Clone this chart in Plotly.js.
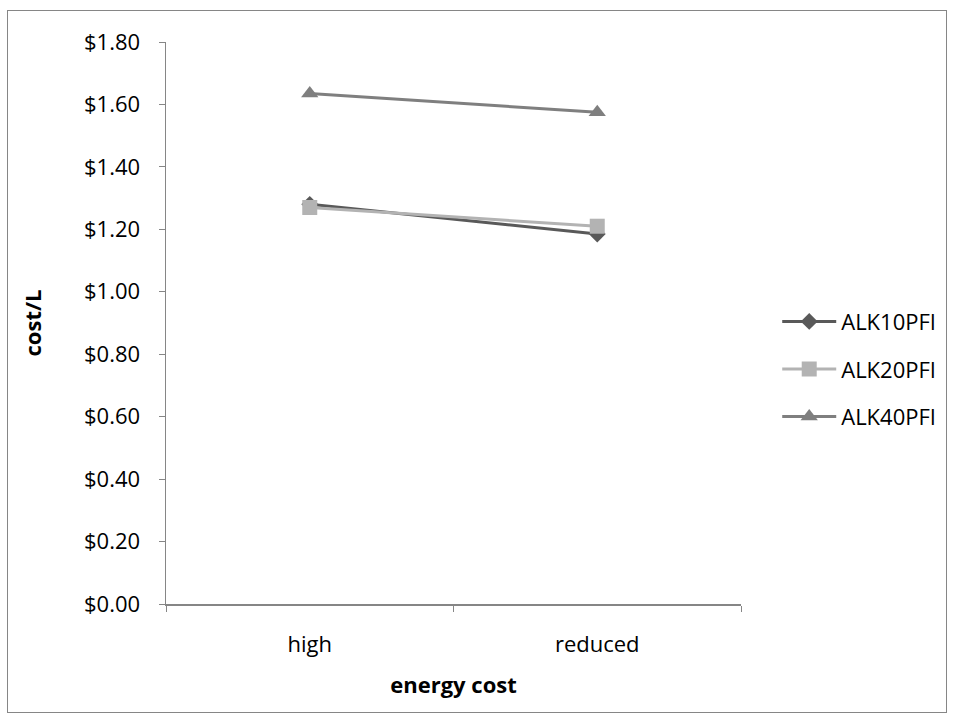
<!DOCTYPE html>
<html>
<head>
<meta charset="utf-8">
<script src="https://cdn.plot.ly/plotly-3.0.1.min.js"></script>
<style>
  html, body { margin: 0; padding: 0; background: #fff; }
  #chart { width: 956px; height: 721px; }
  #frame { position: absolute; left: 7px; top: 10px; width: 940px; height: 703px; border: 1.5px solid #868686; pointer-events: none; box-sizing: border-box; }
</style>
</head>
<body>
<div id="chart"></div>
<div id="frame"></div>
<script>
const categories = ['high', 'reduced'];
const seriesNames = ['ALK10PFI', 'ALK20PFI', 'ALK40PFI'];
const alk10 = [1.28, 1.185];
const alk20 = [1.27, 1.21];
const alk40 = [1.635, 1.575];
const yTicks = [0, 0.2, 0.4, 0.6, 0.8, 1.0, 1.2, 1.4, 1.6, 1.8];

const FONT = 'Open Sans, sans-serif';
const colors = ['#595959', '#b3b3b3', '#7f7f7f'];
const symbols = ['diamond', 'square', 'triangle-up'];
const sizes = [13, 15, 15];
const data = [alk10, alk20, alk40].map((vals, i) => ({
  type: 'scatter',
  mode: 'lines+markers',
  x: categories,
  y: vals,
  name: seriesNames[i],
  legendgroup: 'g' + i,
  line: { color: colors[i], width: 3 },
  marker: { symbol: symbols[i], size: sizes[i], color: colors[i], line: { width: 0 } },
  cliponaxis: false
}));

const layout = {
  width: 956,
  height: 721,
  margin: { l: 166, r: 215, t: 42, b: 117 },
  paper_bgcolor: '#ffffff',
  plot_bgcolor: '#ffffff',
  font: { family: FONT, size: 22, color: '#000' },
  showlegend: true,
  legend: {
    x: 1.063, xanchor: 'left', y: 0.418, yanchor: 'middle',
    font: { family: FONT, size: 22, color: '#000' },
    traceorder: 'grouped',
    tracegroupgap: 16,
    itemwidth: 54,
    bgcolor: 'rgba(0,0,0,0)'
  },
  xaxis: {
    type: 'category',
    range: [-0.5, 1.5],
    tickson: 'boundaries',
    ticks: 'outside',
    ticklen: 6,
    tickcolor: '#868686',
    showline: true,
    linecolor: '#868686',
    linewidth: 1.5,
    showgrid: false,
    zeroline: false,
    tickfont: { family: FONT, size: 22 },
    ticklabelstandoff: 20,
    title: { text: '<b>energy cost</b>', font: { family: FONT, size: 22 }, standoff: 20 }
  },
  yaxis: {
    range: [0, 1.8],
    tickvals: yTicks,
    tickformat: '$.2f',
    ticks: 'outside',
    ticklen: 6,
    tickcolor: '#868686',
    showline: true,
    linecolor: '#868686',
    linewidth: 1.5,
    showgrid: false,
    zeroline: false,
    tickfont: { family: FONT, size: 22 },
    ticklabelstandoff: 14,
    title: { text: '<b>cost/L</b>', font: { family: FONT, size: 22 }, standoff: 36 }
  }
};

Plotly.newPlot('chart', data, layout, { displayModeBar: false, staticPlot: true });
</script>
</body>
</html>
